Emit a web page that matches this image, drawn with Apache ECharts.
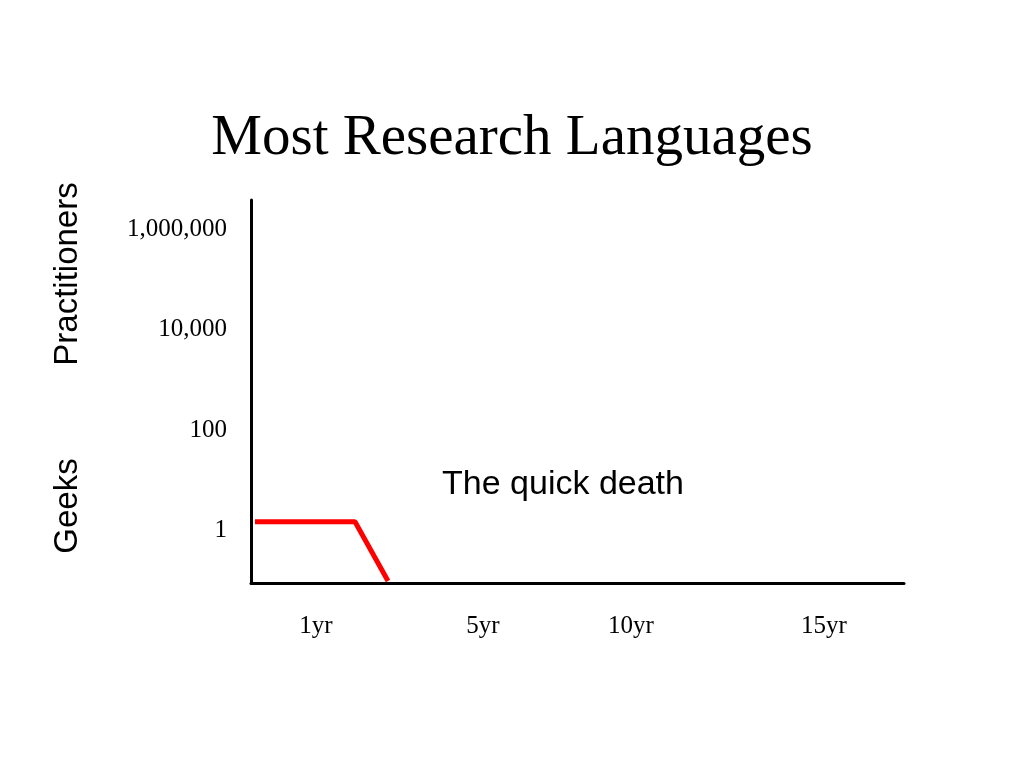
<!DOCTYPE html>
<html>
<head>
<meta charset="utf-8">
<script src="https://cdn.jsdelivr.net/npm/echarts@6/dist/echarts.min.js"></script>
<style>
  html, body { margin: 0; padding: 0; background: #fff; }
  #chart { width: 1024px; height: 768px; }
</style>
</head>
<body>
<div id="chart"></div>
<script>
// y is log10(practitioners), x is position along the hand-drawn timeline
const yTickValues = [0, 2, 4, 6];
const yTickLabels = ['1', '100', '10,000', '1,000,000'];
const xTickValues = [65, 232, 380, 573];
const xTickLabels = ['1yr', '5yr', '10yr', '15yr'];

// the quick death: flat near one geek, then drops off
const deathX = [4, 104, 137];
const deathY = [0.18, 0.18, -1.0];

const chart = echarts.init(document.getElementById('chart'));

const serif = '"Liberation Serif", "Times New Roman", serif';
const sans = '"Liberation Sans", Arial, sans-serif';

chart.setOption({
  backgroundColor: '#fff',
  animation: false,
  title: {
    text: 'Most Research Languages',
    left: 'center',
    top: 106,
    textStyle: { fontFamily: serif, fontSize: 57, fontWeight: 'normal', color: '#000' }
  },
  grid: { left: 251, top: 200, width: 653, height: 383 },
  xAxis: {
    type: 'value',
    min: 0,
    max: 653,
    splitLine: { show: false },
    axisLine: { onZero: false, lineStyle: { color: '#000', width: 3 } },
    axisTick: { show: false },
    axisLabel: {
      customValues: xTickValues,
      margin: 31,
      color: '#000',
      fontFamily: serif,
      fontSize: 25,
      formatter: v => xTickLabels[xTickValues.indexOf(v)] || ''
    }
  },
  yAxis: {
    type: 'value',
    min: -1.04,
    max: 6.58,
    splitLine: { show: false },
    axisLine: { show: true, onZero: false, lineStyle: { color: '#000', width: 3 } },
    axisTick: { show: false },
    axisLabel: {
      customValues: yTickValues,
      margin: 24,
      padding: [5, 0, 0, 0],
      color: '#000',
      fontFamily: serif,
      fontSize: 25,
      formatter: v => yTickLabels[yTickValues.indexOf(v)] || ''
    }
  },
  graphic: [
    {
      type: 'text', x: 68, y: 274, rotation: Math.PI / 2,
      style: { text: 'Practitioners', font: '33px ' + sans, fill: '#000', align: 'center', verticalAlign: 'middle' }
    },
    {
      type: 'text', x: 68, y: 506, rotation: Math.PI / 2,
      style: { text: 'Geeks', font: '33px ' + sans, fill: '#000', align: 'center', verticalAlign: 'middle' }
    },
    {
      type: 'text', x: 563, y: 485,
      style: { text: 'The quick death', font: '34px ' + sans, fill: '#000', align: 'center', verticalAlign: 'middle' }
    }
  ],
  series: [{
    type: 'line',
    data: deathX.map((x, i) => [x, deathY[i]]),
    symbol: 'none',
    lineStyle: { color: '#ff0000', width: 5 }
  }]
});
</script>
</body>
</html>
